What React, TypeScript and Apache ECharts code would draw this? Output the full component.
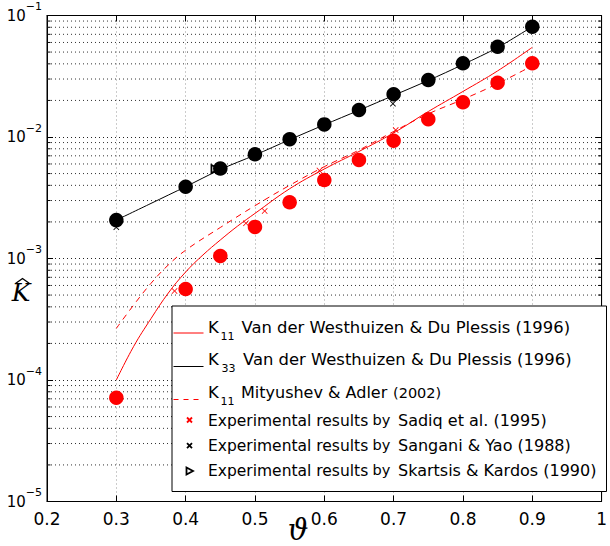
import React, { useEffect, useRef } from 'react';
import * as echarts from 'echarts';

// Numerical results (filled circles)
const THETA_POINTS = [0.3, 0.4, 0.45, 0.5, 0.55, 0.6, 0.65, 0.7, 0.75, 0.8, 0.85, 0.9];
const K33_CIRCLES = [2.07e-3, 3.9e-3, 5.5e-3, 7.2e-3, 9.6e-3, 1.27e-2, 1.67e-2, 2.25e-2, 2.94e-2, 4.04e-2, 5.53e-2, 8.09e-2];
const K11_CIRCLES = [7.15e-5, 5.6e-4, 1.05e-3, 1.82e-3, 2.9e-3, 4.42e-3, 6.47e-3, 9.33e-3, 1.4e-2, 1.93e-2, 2.8e-2, 4.04e-2];

// K33 Van der Westhuizen & Du Plessis (black solid)
const THETA_K33_LINE = [0.3, 0.35, 0.4, 0.45, 0.5, 0.55, 0.6, 0.65, 0.7, 0.75, 0.8, 0.85, 0.9];
const K33_VDW = [2.07e-3, 2.84e-3, 3.9e-3, 5.4e-3, 7.1e-3, 9.5e-3, 1.26e-2, 1.66e-2, 2.2e-2, 2.92e-2, 3.95e-2, 5.45e-2, 8.09e-2];

// K11 Van der Westhuizen & Du Plessis (red solid)
const THETA_K11_LINE = [0.3, 0.325, 0.35, 0.375, 0.4, 0.425, 0.45, 0.475, 0.5, 0.55, 0.6, 0.65, 0.7, 0.75, 0.8, 0.85, 0.9];
const K11_VDW = [1.0e-4, 1.89e-4, 3.2e-4, 5.2e-4, 7.74e-4, 1.07e-3, 1.42e-3, 1.85e-3, 2.35e-3, 3.75e-3, 5.45e-3, 7.6e-3, 1.08e-2, 1.62e-2, 2.37e-2, 3.5e-2, 5.47e-2];

// K11 Mityushev & Adler (red dashed)
const THETA_MA = [0.3, 0.325, 0.35, 0.375, 0.4, 0.45, 0.5, 0.55, 0.6, 0.65, 0.7, 0.75, 0.8, 0.85, 0.9];
const K11_MA = [2.66e-4, 4.14e-4, 6.25e-4, 8.85e-4, 1.17e-3, 1.8e-3, 2.72e-3, 4.0e-3, 5.7e-3, 7.8e-3, 1.11e-2, 1.55e-2, 2.04e-2, 2.75e-2, 3.86e-2];

// Experimental results
const SADIQ_THETA = [0.384, 0.487, 0.514, 0.593, 0.703];
const SADIQ_K = [5.4e-4, 1.95e-3, 2.46e-3, 5.3e-3, 1.14e-2];
const SANGANI_THETA = [0.3, 0.699];
const SANGANI_K = [1.81e-3, 1.88e-2];
const SKARTSIS_THETA = [0.443];
const SKARTSIS_K = [5.45e-3];

// Axis ranges / minor log ticks
const X_MIN = 0.2;
const X_MAX = 1.0;
const X_STEP = 0.1;
const Y_MIN = 1e-5;
const Y_MAX = 1e-1;
const MINOR_MULTS = [2, 3, 4, 5, 6, 7, 8, 9];
const MINOR_DECADES = [1e-5, 1e-4, 1e-3, 1e-2];

const LEGEND_LABELS = [
  ['K', '11', 'Van der Westhuizen & Du Plessis (1996)'],
  ['K', '33', 'Van der Westhuizen & Du Plessis (1996)'],
  ['K', '11', 'Mityushev & Adler', '(2002)'],
  ['Experimental results', 'by', 'Sadiq et al. (1995)'],
  ['Experimental results', 'by', 'Sangani & Yao (1988)'],
  ['Experimental results', 'by', 'Skartsis & Kardos (1990)'],
];

const zip = (xs: number[], ys: number[]) => xs.map((x, i) => [x, ys[i]]);

const X_SYMBOL = 'path://M1,0L5,4L9,0L10,1L6,5L10,9L9,10L5,6L1,10L0,9L4,5L0,1Z';
const TRI_SYMBOL = 'path://M0,0L10,5L0,10Z';
const FONT = 'DejaVu Sans';

export default function App() {
  const ref = useRef<HTMLDivElement>(null);
  useEffect(() => {
    if (!ref.current) return;
    const chart = echarts.init(ref.current, undefined, { renderer: 'svg' });
    const minor: number[][] = [];
    MINOR_DECADES.forEach((d) => MINOR_MULTS.forEach((m) => minor.push([0.5, d * m])));

    const txt = (x: number, y: number, text: string, size: number, extra: any = {}) => ({
      type: 'text', x, y, z: 101,
      style: { text, fontSize: size, fontFamily: FONT, fill: '#000', verticalAlign: 'middle', align: 'left', ...extra },
    });

    const lx1 = 173.5, lx2 = 203.5, mx = 189.5;
    const legendEls: any[] = [
      { type: 'rect', z: 100, shape: { x: 172, y: 306, width: 434.5, height: 185.5 }, style: { fill: '#fff', stroke: '#000', lineWidth: 1 } },
      // line samples
      { type: 'line', z: 101, shape: { x1: lx1, y1: 333, x2: lx2, y2: 333 }, style: { stroke: '#ff0000', lineWidth: 1 } },
      { type: 'line', z: 101, shape: { x1: lx1, y1: 366.5, x2: lx2, y2: 366.5 }, style: { stroke: '#000', lineWidth: 1 } },
      { type: 'line', z: 101, shape: { x1: lx1, y1: 399.5, x2: lx2, y2: 399.5 }, style: { stroke: '#ff0000', lineWidth: 1, lineDash: [5, 5] } },
      // markers
      { type: 'line', z: 101, shape: { x1: mx - 2.5, y1: 417.5, x2: mx + 2.5, y2: 422.5 }, style: { stroke: '#ff0000', lineWidth: 1.8 } },
      { type: 'line', z: 101, shape: { x1: mx - 2.5, y1: 422.5, x2: mx + 2.5, y2: 417.5 }, style: { stroke: '#ff0000', lineWidth: 1.8 } },
      { type: 'line', z: 101, shape: { x1: mx - 2.5, y1: 443.2, x2: mx + 2.5, y2: 448.2 }, style: { stroke: '#000', lineWidth: 1.8 } },
      { type: 'line', z: 101, shape: { x1: mx - 2.5, y1: 448.2, x2: mx + 2.5, y2: 443.2 }, style: { stroke: '#000', lineWidth: 1.8 } },
      { type: 'polygon', z: 101, shape: { points: [[mx - 3, 467.5], [mx + 3.5, 471], [mx - 3, 474.5]] }, style: { fill: '#fff', stroke: '#000', lineWidth: 1.8 } },
      // row texts
      txt(208, 327, LEGEND_LABELS[0][0], 16.4), txt(220.5, 336.5, LEGEND_LABELS[0][1], 11), txt(241.5, 327, LEGEND_LABELS[0][2], 16.4),
      txt(208, 359.5, LEGEND_LABELS[1][0], 16.4), txt(221.5, 368.5, LEGEND_LABELS[1][1], 11), txt(243, 359.5, LEGEND_LABELS[1][2], 16.4),
      txt(208, 392, LEGEND_LABELS[2][0], 16.4), txt(220.5, 401.5, LEGEND_LABELS[2][1], 11), txt(241, 392, LEGEND_LABELS[2][2], 16), txt(393, 393, LEGEND_LABELS[2][3], 14.5),
      txt(208, 420.5, LEGEND_LABELS[3][0], 15.5), txt(372.5, 420, LEGEND_LABELS[3][1], 14.5), txt(398, 420.5, LEGEND_LABELS[3][2], 16),
      txt(208, 445.5, LEGEND_LABELS[4][0], 15.5), txt(372.5, 445, LEGEND_LABELS[4][1], 14.5), txt(398, 445.5, LEGEND_LABELS[4][2], 16),
      txt(208, 470.5, LEGEND_LABELS[5][0], 15.5), txt(372.5, 470, LEGEND_LABELS[5][1], 14.5), txt(398, 470.5, LEGEND_LABELS[5][2], 16),
      // axis names
      { type: 'text', x: 21, y: 292, z: 101, style: { text: 'K', fontSize: 25, fontStyle: 'italic', fontFamily: 'DejaVu Serif', fill: '#000', align: 'center', verticalAlign: 'middle' } },
      { type: 'polyline', z: 101, shape: { points: [[15.5, 283.5], [22.5, 278.5], [29.5, 283.5]] }, style: { stroke: '#000', lineWidth: 1.3, fill: null } },
      { type: 'text', x: 298, y: 530, z: 101, style: { text: 'ϑ', fontSize: 29, fontStyle: 'italic', fontFamily: 'DejaVu Serif', fill: '#000', align: 'center', verticalAlign: 'middle' } },
    ];

    const axisLineStyle = { lineStyle: { color: '#000', width: 1 } };
    chart.setOption({
      animation: false,
      grid: { left: 47, top: 15.5, width: 563.5, height: 486, show: true, borderColor: '#000', borderWidth: 1, backgroundColor: '#fff' },
      xAxis: [
        {
          type: 'value', min: X_MIN, max: X_MAX, interval: X_STEP, position: 'bottom',
          axisLine: { show: true, ...axisLineStyle },
          axisTick: { show: true, inside: true, length: 6, lineStyle: { color: '#000' } },
          axisLabel: { margin: 9, fontSize: 17, fontFamily: FONT, color: '#000', formatter: (v: number) => String(Math.round(v * 10) / 10) },
          splitLine: { show: true, lineStyle: { color: '#999', type: [1, 3], width: 1 } },
        },
        {
          type: 'value', min: X_MIN, max: X_MAX, interval: X_STEP, position: 'top',
          axisLine: { show: true, ...axisLineStyle },
          axisTick: { show: true, inside: true, length: 6, lineStyle: { color: '#000' } },
          axisLabel: { show: false }, splitLine: { show: false },
        },
      ],
      yAxis: [
        {
          type: 'log', logBase: 10, min: Y_MIN, max: Y_MAX, position: 'left',
          axisLine: { show: true, ...axisLineStyle },
          axisTick: { show: true, inside: true, length: 6, lineStyle: { color: '#000' } },
          axisLabel: {
            margin: 5, color: '#000',
            formatter: (v: number) => `{b|10}{s|−${-Math.round(Math.log10(v))}}`,
            rich: {
              b: { fontSize: 15, fontFamily: FONT, color: '#000' },
              s: { fontSize: 11, fontFamily: FONT, color: '#000', padding: [0, 0, 18, 0] },
            },
          },
          splitLine: { show: true, lineStyle: { color: '#222', type: [1, 3], width: 1 } },
        },
        {
          type: 'log', logBase: 10, min: Y_MIN, max: Y_MAX, position: 'right',
          axisLine: { show: true, ...axisLineStyle },
          axisTick: { show: true, inside: true, length: 6, lineStyle: { color: '#000' } },
          axisLabel: { show: false }, splitLine: { show: false },
        },
      ],
      series: [
        {
          type: 'custom', name: 'minor', silent: true, z: 1, clip: false,
          data: minor,
          renderItem: (params: any, api: any) => {
            const y = api.coord([0.5, api.value(1)])[1];
            const cs = params.coordSys;
            return {
              type: 'group',
              children: [
                { type: 'line', shape: { x1: cs.x, y1: y, x2: cs.x + cs.width, y2: y }, style: { stroke: '#333', lineWidth: 1, lineDash: [1, 3] } },
                { type: 'line', shape: { x1: cs.x, y1: y, x2: cs.x + 3.5, y2: y }, style: { stroke: '#000', lineWidth: 1 } },
                { type: 'line', shape: { x1: cs.x + cs.width - 3.5, y1: y, x2: cs.x + cs.width, y2: y }, style: { stroke: '#000', lineWidth: 1 } },
              ],
            };
          },
        },
        {
          type: 'line', name: 'K11 Van der Westhuizen & Du Plessis (1996)', data: zip(THETA_K11_LINE, K11_VDW),
          symbol: 'none', smooth: 0.4, z: 3, lineStyle: { color: '#ff0000', width: 1 },
        },
        {
          type: 'line', name: 'K33 Van der Westhuizen & Du Plessis (1996)', data: zip(THETA_K33_LINE, K33_VDW),
          symbol: 'none', smooth: 0.3, z: 3, lineStyle: { color: '#000', width: 1 },
        },
        {
          type: 'line', name: 'K11 Mityushev & Adler (2002)', data: zip(THETA_MA, K11_MA),
          symbol: 'none', smooth: 0.4, z: 3, lineStyle: { color: '#ff0000', width: 1, type: [6, 5] },
        },
        {
          type: 'scatter', name: 'Sadiq et al. (1995)', data: zip(SADIQ_THETA, SADIQ_K),
          symbol: X_SYMBOL, symbolSize: 6, z: 4, itemStyle: { color: '#ff0000', opacity: 1 },
        },
        {
          type: 'scatter', name: 'Sangani & Yao (1988)', data: zip(SANGANI_THETA, SANGANI_K),
          symbol: X_SYMBOL, symbolSize: 6, z: 4, itemStyle: { color: '#000', opacity: 1 },
        },
        {
          type: 'scatter', name: 'Skartsis & Kardos (1990)', data: zip(SKARTSIS_THETA, SKARTSIS_K),
          symbol: TRI_SYMBOL, symbolSize: 8, z: 4, itemStyle: { color: '#fff', borderColor: '#000', borderWidth: 1.8, opacity: 1 },
        },
        {
          type: 'scatter', name: 'K33 numerical', data: zip(THETA_POINTS, K33_CIRCLES),
          symbol: 'circle', symbolSize: 14.5, z: 5, itemStyle: { color: '#000', opacity: 1 },
        },
        {
          type: 'scatter', name: 'K11 numerical', data: zip(THETA_POINTS, K11_CIRCLES),
          symbol: 'circle', symbolSize: 14.5, z: 5, itemStyle: { color: '#ff0000', opacity: 1 },
        },
      ],
      graphic: legendEls,
    });
    return () => chart.dispose();
  }, []);
  return <div ref={ref} style={{ position: 'absolute', left: 0, top: 0, width: 610, height: 546, background: '#fff' }} />;
}
